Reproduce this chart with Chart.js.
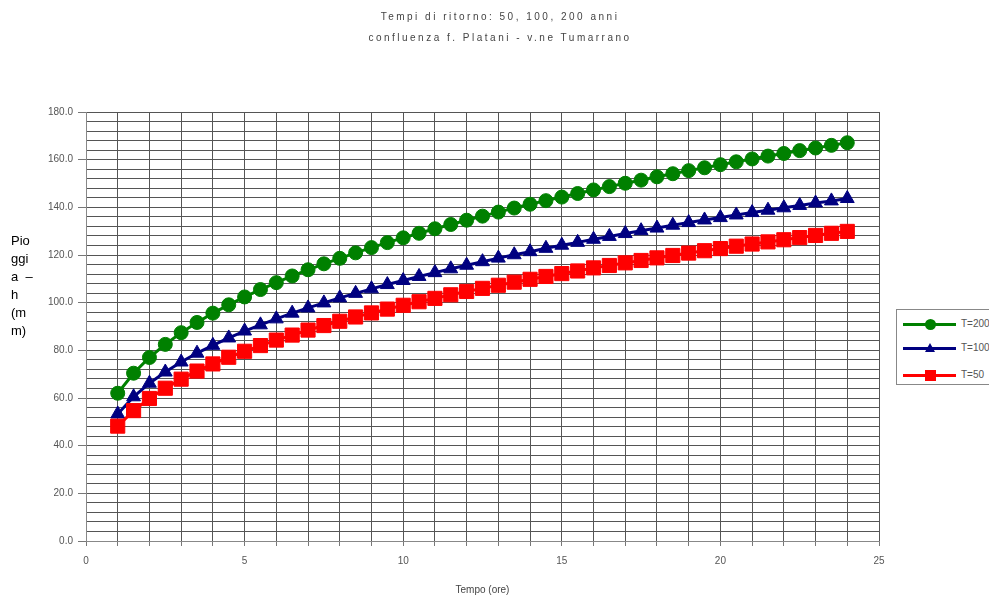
<!DOCTYPE html>
<html lang="it">
<head>
  <meta charset="UTF-8" />
  <title>Tempi di ritorno</title>
  <script src="https://cdn.jsdelivr.net/npm/chart.js"></script>
  <style>
    body { margin: 0; background: white; font-family: Arial, "Liberation Sans", sans-serif; }
    #wrap { position: relative; width: 989px; height: 599px; overflow: hidden; }
    .title {
      position: absolute; left: 0; width: 1000px; text-align: center;
      font-size: 10px; letter-spacing: 2.5px; color: #444;
    }
    #ytitle {
      position: absolute; left: 11px; top: 232px; font-size: 13px;
      line-height: 18px; color: #000;
    }
    #legend {
      position: absolute; left: 896px; top: 309px; width: 110px; height: 74px;
      border: 1px solid #888; background: white;
    }
    .item { position: absolute; left: 6px; height: 14px; font-size: 10px; color: #555; }
    .item .ln { position: absolute; left: 0; top: 6px; width: 53px; height: 3px; }
    .item .mk { position: absolute; left: 22px; top: 2px; width: 11px; height: 11px; }
    .item .lb { position: absolute; left: 58px; top: 1px; white-space: nowrap; }
  </style>
</head>
<body>
  <div id="wrap">
    <div class="title" style="top: 11px;">Tempi di ritorno: 50, 100, 200 anni</div>
    <div class="title" style="top: 32px;">confluenza f. Platani - v.ne Tumarrano</div>
    <div id="ytitle">Pio<br>ggi<br>a &nbsp;–<br>h<br>(m<br>m)</div>
    <canvas id="chart"></canvas>
    <div id="legend"></div>
  </div>

  <script>
    // durata (ore)
    const hours = [1, 1.5, 2, 2.5, 3, 3.5, 4, 4.5, 5, 5.5, 6, 6.5, 7, 7.5, 8, 8.5, 9, 9.5, 10, 10.5,
      11, 11.5, 12, 12.5, 13, 13.5, 14, 14.5, 15, 15.5, 16, 16.5, 17, 17.5, 18, 18.5, 19, 19.5,
      20, 20.5, 21, 21.5, 22, 22.5, 23, 23.5, 24];

    const t200 = [62.0, 70.4, 77.0, 82.5, 87.4, 91.7, 95.6, 99.1, 102.4, 105.5, 108.4, 111.2,
      113.8, 116.3, 118.6, 120.9, 123.1, 125.2, 127.2, 129.1, 131.0, 132.8, 134.6, 136.3, 138.0,
      139.7, 141.3, 142.8, 144.3, 145.8, 147.3, 148.7, 150.1, 151.4, 152.8, 154.1, 155.4, 156.6,
      157.9, 159.1, 160.3, 161.5, 162.6, 163.8, 164.9, 166.0, 167.1];

    const t100 = [53.3, 60.5, 66.2, 70.9, 75.1, 78.8, 82.1, 85.2, 88.1, 90.7, 93.2, 95.6,
      97.8, 99.9, 102.0, 103.9, 105.8, 107.6, 109.3, 111.0, 112.6, 114.2, 115.7, 117.2, 118.7,
      120.1, 121.4, 122.8, 124.1, 125.3, 126.6, 127.8, 129.0, 130.2, 131.3, 132.5, 133.6, 134.7,
      135.7, 136.8, 137.8, 138.8, 139.8, 140.8, 141.8, 142.7, 143.7];

    const t50 = [48.2, 54.7, 59.8, 64.1, 67.9, 71.3, 74.3, 77.1, 79.6, 82.0, 84.3, 86.4,
      88.5, 90.4, 92.2, 94.0, 95.7, 97.3, 98.9, 100.4, 101.8, 103.3, 104.7, 106.0, 107.3,
      108.6, 109.8, 111.0, 112.2, 113.3, 114.6, 115.6, 116.7, 117.7, 118.8, 119.8, 120.8, 121.8,
      122.7, 123.7, 124.6, 125.5, 126.4, 127.3, 128.2, 129.1, 129.9];

    const seriesNames = ['T=200', 'T=100', 'T=50'];
    const seriesColors = ['#008000', '#000080', '#ff0000'];
    const seriesMarkers = ['circle', 'triangle', 'rect'];
    const markerSizes = [7, 8, 10];

    const toPoints = arr => arr.map((v, i) => ({ x: hours[i], y: v }));
    const values = [t200, t100, t50];

    const datasets = values.map((arr, i) => ({
      label: seriesNames[i],
      data: toPoints(arr),
      borderColor: seriesColors[i],
      backgroundColor: seriesColors[i],
      borderWidth: 3,
      pointStyle: seriesMarkers[i],
      pointRadius: markerSizes[i],
      pointBorderWidth: 1,
      order: 3 - i,
      tension: 0
    }));

    new Chart(document.getElementById('chart'), {
      type: 'line',
      data: { datasets },
      options: {
        responsive: true,
        maintainAspectRatio: false,
        animation: false,
        layout: { padding: { left: 26, top: 112, right: 110, bottom: 0 } },
        plugins: { legend: { display: false }, tooltip: { enabled: false } },
        scales: {
          x: {
            type: 'linear', min: 0, max: 25,
            afterFit: s => { s.height = 58; },
            border: { color: '#888', width: 1 },
            grid: { color: '#555', tickLength: 5, tickColor: '#777' },
            ticks: {
              stepSize: 1, autoSkip: false, maxRotation: 0, padding: 9,
              color: '#555', font: { size: 10 },
              callback: v => (v % 5 === 0 ? v : '')
            },
            title: { display: true, text: 'Tempo (ore)', color: '#444', font: { size: 10 }, padding: { bottom: 3 } }
          },
          y: {
            min: 0, max: 180,
            afterFit: s => { s.width = 60; },
            border: { color: '#888', width: 1 },
            grid: {
              color: '#555', tickLength: 8,
              tickColor: c => (c.tick && c.tick.value % 20 === 0 ? '#777' : 'rgba(0,0,0,0)')
            },
            ticks: {
              stepSize: 4, autoSkip: false, padding: 5,
              color: '#555', font: { size: 10 },
              callback: v => (v % 20 === 0 ? v.toFixed(1) : '')
            }
          }
        }
      }
    });

    // legenda
    const legend = document.getElementById('legend');
    const rows = [14, 38, 65];
    seriesNames.forEach((name, i) => {
      const item = document.createElement('div');
      item.className = 'item';
      item.style.top = (rows[i] - 7) + 'px';
      let mk = '<div class="mk" style="background:' + seriesColors[i] + ';' +
        (i === 0 ? 'border-radius:50%;' : '') + '"></div>';
      if (i === 1) {
        mk = '<div class="mk" style="width:0;height:0;background:none;border-left:5px solid transparent;' +
          'border-right:5px solid transparent;border-bottom:9px solid ' + seriesColors[i] + ';"></div>';
      }
      item.innerHTML = '<div class="ln" style="background:' + seriesColors[i] + '"></div>' + mk +
        '<div class="lb">' + name + '</div>';
      legend.appendChild(item);
    });
  </script>
</body>
</html>
